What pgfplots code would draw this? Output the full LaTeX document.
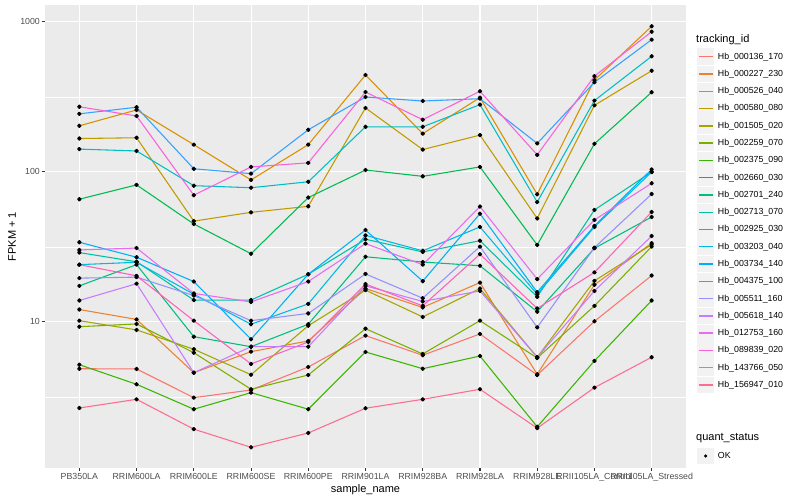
\documentclass[border=0pt]{standalone}
\usepackage{fontspec}
\setmainfont{Liberation Sans}
\usepackage{pgfplots}
\usepackage{pgfplotstable}
\pgfplotsset{compat=1.18}

\definecolor{c1}{HTML}{F8766D}
\definecolor{c2}{HTML}{EA8331}
\definecolor{c3}{HTML}{D89000}
\definecolor{c4}{HTML}{C09B00}
\definecolor{c5}{HTML}{A3A500}
\definecolor{c6}{HTML}{7CAE00}
\definecolor{c7}{HTML}{39B600}
\definecolor{c8}{HTML}{00BB4E}
\definecolor{c9}{HTML}{00BF7D}
\definecolor{c10}{HTML}{00C1A3}
\definecolor{c11}{HTML}{00BFC4}
\definecolor{c12}{HTML}{00BAE0}
\definecolor{c13}{HTML}{00B0F6}
\definecolor{c14}{HTML}{35A2FF}
\definecolor{c15}{HTML}{9590FF}
\definecolor{c16}{HTML}{C77CFF}
\definecolor{c17}{HTML}{E76BF3}
\definecolor{c18}{HTML}{FA62DB}
\definecolor{c19}{HTML}{FF62BC}
\definecolor{c20}{HTML}{FF6C91}
\definecolor{panel}{HTML}{EBEBEB}
\definecolor{keybg}{HTML}{F2F2F2}
\definecolor{tickgray}{HTML}{333333}
\definecolor{labgray}{HTML}{4D4D4D}

\newcommand{\tickfont}{\fontsize{8.8}{10}\selectfont}
\newcommand{\titlefont}{\fontsize{11}{13}\selectfont}

% FPKM+1 per sample (rows) and transcript (columns, legend order)
\pgfplotstableread{
x  s1    s2    s3    s4    s5    s6    s7    s8    s9    s10   s11   s12   s13   s14   s15   s16   s17   s18   s19   s20
0  4.88  12.1  203   167   10.2  9.3   5.19  65.8  17.4  29.0  142   24.1  34.0  244   19.6  13.9  30.2  272   24.1  2.67
1  4.86  10.4  259   169   8.85  9.7   3.84  82    24.1  25.2  138   25.0  27.0  270   19.9  18.0  31.1  236   20.3  3.05
2  3.13  4.59  152   47    6.58  6.24  2.62  45    7.98  14.0  81    15.3  18.6  105   15.0  4.59  15.5  70    10.2  1.93
3  3.52  6.34  88.5  53.8  4.45  3.56  3.38  28.5  6.84  14.0  78.5  9.66  7.67  97.4  10.2  6.84  13.6  108   5.25  1.46
4  5.01  7.47  152   59    9.44  4.43  2.62  67.5  9.66  20.8  86    13.2  20.8  191   11.4  6.84  18.6  115   7.36  1.82
5  8.11  16.7  443   267   16.3  9.02  6.31  103   27.2  35.6  200   37.8  41.0  316   20.9  17.4  33.3  341   17.9  2.66
6  6.0   12.5  180   141   10.8  6.12  4.88  93.5  25.1  29.3  200   29.8  18.7  297   14.4  13.7  24.1  223   12.8  3.05
7  8.32  18.3  313   176   16.7  10.2  5.93  108   23.7  34.8  281   43.0  52.7  308   31.8  16.1  58.8  345   28.3  3.56
8  4.43  4.48  71    49    5.82  5.75  2.0   32.6  11.7  14.7  63    15.3  15.8  155   9.2   5.82  19.3  130   12.3  1.96
9  10.1  17.7  410   278   18.8  12.8  5.5   154   31.0  55.8  299   43.0  43.7  396   31.3  16.1  47.9  435   21.4  3.65
10 20.4  33.5  935   473   32.8  31.8  13.9  340   50.1  100   590   100   104   762   71.3  37.4  84    861   54.1  5.82
}\fpkm

\begin{document}
\begin{tikzpicture}
\useasboundingbox (0,0) rectangle (800pt,500pt);
\begin{axis}[
    at={(45pt,32pt)}, anchor=south west,
    width=641pt, height=463pt, scale only axis,
    xmin=-0.6, xmax=10.6,
    ymode=log, ymin=1.063, ymax=1297,
    xtick={0,...,10},
    xticklabels={PB350LA,RRIM600LA,RRIM600LE,RRIM600SE,RRIM600PE,RRIM901LA,RRIM928BA,RRIM928LA,RRIM928LE,RRII105LA\_Control,RRII105LA\_Stressed},
    ytick={10,100,1000}, yticklabels={10,100,1000},
    minor ytick={3.1623,31.623,316.23},
    grid=both,
    major grid style={white, line width=1.07pt},
    minor grid style={white, line width=0.53pt},
    axis background/.style={fill=panel},
    axis line style={draw=none},
    tick align=outside, xtick pos=bottom, ytick pos=left,
    major tick length=2.75pt, minor tick length=0pt,
    tick style={tickgray, line width=1.07pt},
    tick label style={font=\tickfont, text=labgray},
    xticklabel style={anchor=north, inner sep=0pt, yshift=-2.2pt},
    yticklabel style={anchor=east, inner sep=0pt, xshift=-2.2pt},
    every axis x label/.style={at={(axis description cs:0.5,-0.0464)}, anchor=center, font=\titlefont},
    every axis y label/.style={at={(axis description cs:-0.0515,0.5)}, rotate=90, anchor=center, font=\titlefont},
    xlabel={sample\_name},
    ylabel={FPKM + 1},
    every axis plot/.append style={line width=1.07pt, line join=round},
    legend style={at={(1,1)}, anchor=north west, xshift=11pt, yshift=-43.06pt,
        draw=none, fill=none, inner sep=0pt, outer sep=0pt,
        row sep=0pt, column sep=3.7pt, font=\tickfont,
        nodes={inner sep=0pt, text height=6.3pt, text depth=1.5pt}},
    legend cell align=left,
    legend image code/.code={
        \path[use as bounding box, draw=none] (0pt,-8.64pt) rectangle (17.28pt,8.64pt);
        \fill[keybg, draw=none] (0.3pt,-8.34pt) rectangle (16.98pt,8.34pt);
        \fill[#1, draw=none] (1.73pt,-0.7pt) rectangle (15.55pt,0.7pt);},
]
\addplot[c1,  no marks] table[x=x, y=s1]  {\fpkm}; \addlegendentry{Hb\_000136\_170}
\addplot[c2,  no marks] table[x=x, y=s2]  {\fpkm}; \addlegendentry{Hb\_000227\_230}
\addplot[c3,  no marks] table[x=x, y=s3]  {\fpkm}; \addlegendentry{Hb\_000526\_040}
\addplot[c4,  no marks] table[x=x, y=s4]  {\fpkm}; \addlegendentry{Hb\_000580\_080}
\addplot[c5,  no marks] table[x=x, y=s5]  {\fpkm}; \addlegendentry{Hb\_001505\_020}
\addplot[c6,  no marks] table[x=x, y=s6]  {\fpkm}; \addlegendentry{Hb\_002259\_070}
\addplot[c7,  no marks] table[x=x, y=s7]  {\fpkm}; \addlegendentry{Hb\_002375\_090}
\addplot[c8,  no marks] table[x=x, y=s8]  {\fpkm}; \addlegendentry{Hb\_002660\_030}
\addplot[c9,  no marks] table[x=x, y=s9]  {\fpkm}; \addlegendentry{Hb\_002701\_240}
\addplot[c10, no marks] table[x=x, y=s10] {\fpkm}; \addlegendentry{Hb\_002713\_070}
\addplot[c11, no marks] table[x=x, y=s11] {\fpkm}; \addlegendentry{Hb\_002925\_030}
\addplot[c12, no marks] table[x=x, y=s12] {\fpkm}; \addlegendentry{Hb\_003203\_040}
\addplot[c13, no marks] table[x=x, y=s13] {\fpkm}; \addlegendentry{Hb\_003734\_140}
\addplot[c14, no marks] table[x=x, y=s14] {\fpkm}; \addlegendentry{Hb\_004375\_100}
\addplot[c15, no marks] table[x=x, y=s15] {\fpkm}; \addlegendentry{Hb\_005511\_160}
\addplot[c16, no marks] table[x=x, y=s16] {\fpkm}; \addlegendentry{Hb\_005618\_140}
\addplot[c17, no marks] table[x=x, y=s17] {\fpkm}; \addlegendentry{Hb\_012753\_160}
\addplot[c18, no marks] table[x=x, y=s18] {\fpkm}; \addlegendentry{Hb\_089839\_020}
\addplot[c19, no marks] table[x=x, y=s19] {\fpkm}; \addlegendentry{Hb\_143766\_050}
\addplot[c20, no marks] table[x=x, y=s20] {\fpkm}; \addlegendentry{Hb\_156947\_010}
% points on top
\pgfplotsinvokeforeach{1,...,20}{
  \addplot[only marks, mark=*, mark size=1.7pt, black, forget plot] table[x=x, y=s#1] {\fpkm};
}
\end{axis}
\node[anchor=west, inner sep=0pt, font=\titlefont] at (696pt,460.5pt) {tracking\_id};
\node[anchor=west, inner sep=0pt, font=\titlefont] at (696pt,62pt) {quant\_status};
% second legend: quant_status
\begin{axis}[
    at={(697pt,52.64pt)}, anchor=north west,
    width=1pt, height=1pt, scale only axis, hide axis,
    xmin=0, xmax=1, ymin=0, ymax=1,
    legend style={at={(0,1)}, anchor=north west,
        draw=none, fill=none, inner sep=0pt, outer sep=0pt,
        row sep=0pt, column sep=3.7pt, font=\tickfont,
        nodes={inner sep=0pt, text height=6.3pt, text depth=1.5pt}},
    legend cell align=left,
    legend image code/.code={
        \path[use as bounding box, draw=none] (0pt,-8.64pt) rectangle (17.28pt,8.64pt);
        \fill[keybg, draw=none] (0.3pt,-8.34pt) rectangle (16.98pt,8.34pt);
        \fill[black, draw=none] (8.64pt,0pt) circle (1.7pt);},
]
\addlegendimage{black}
\addlegendentry{OK}
\end{axis}
\end{tikzpicture}
\end{document}
